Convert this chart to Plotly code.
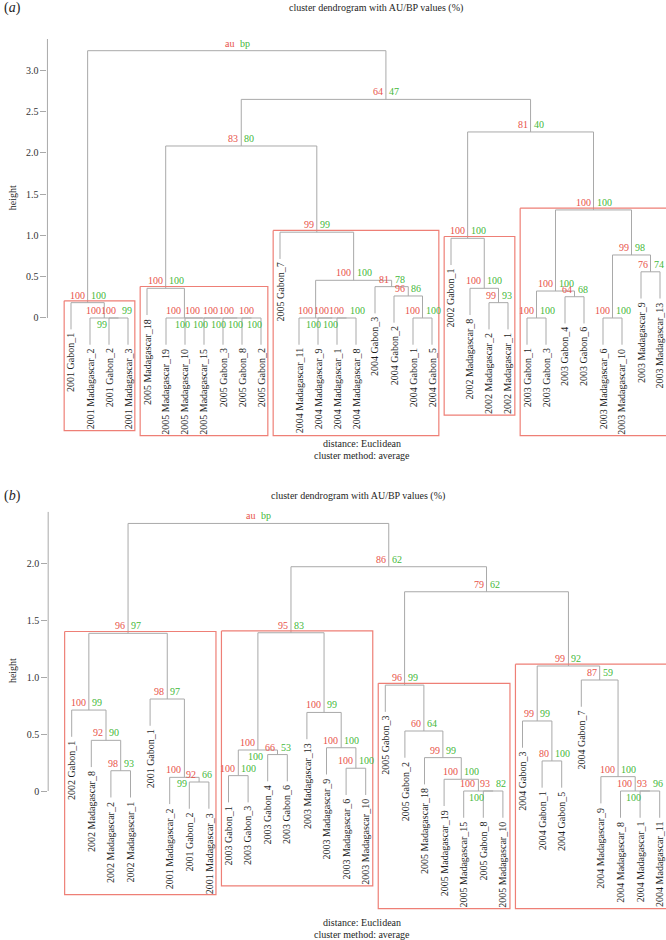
import plotly.graph_objects as go

W, H = 666, 940
SERIF = "Liberation Serif"
RED = "#e8524a"
GREEN = "#45b83a"
BOXC = "#ee7f76"
GREY = "#a9a9a9"
TXT = "#1e1e1e"

# ---------------- panel (a) data ----------------
LEAVES_A = ["2001 Gabon_1", "2001 Madagascar_2", "2001 Gabon_2", "2001 Madagascar_3",
            "2005 Madagascar_18", "2005 Madagascar_19", "2005 Madagascar_10", "2005 Madagascar_15",
            "2005 Gabon_3", "2005 Gabon_8", "2005 Gabon_2", "2005 Gabon_7",
            "2004 Madagascar_11", "2004 Madagascar_9", "2004 Madagascar_1", "2004 Madagascar_8",
            "2004 Gabon_3", "2004 Gabon_2", "2004 Gabon_1", "2004 Gabon_5",
            "2002 Gabon_1", "2002 Madagascar_8", "2002 Madagascar_2", "2002 Madagascar_1",
            "2003 Gabon_1", "2003 Gabon_3", "2003 Gabon_4", "2003 Gabon_6",
            "2003 Madagascar_6", "2003 Madagascar_10", "2003 Madagascar_9", "2003 Madagascar_13"]
LEFT_A = [-3, -2, -1, -10, -9, -8, -7, -6, -5, -15, -14, -13, -19, -18, -17, 12, -12, 9,
          -23, -22, -21, -25, -27, 22, -29, -31, 25, 24, 21, 18, 3]
RIGHT_A = [-4, 1, 2, -11, 4, 5, 6, 7, 8, -16, 10, 11, -20, 13, 14, 15, 16, 17,
           -24, 19, 20, -26, -28, 23, -30, -32, 26, 27, 28, 29, 30]
HEIGHT_A = [0, 0, 0.186, 0, 0, 0, 0, 0, 0.36, 0, 0, 0, 0, 0.267, 0.38, 0.457, 1.04, 2.085,
            0.186, 0.36, 0.966, 0, 0.258, 0.327, 0, 0.56, 0.764, 1.31, 2.255, 2.65, 3.24]
AU_A = [100, 100, 100, 100, 100, 100, 100, 100, 100, 100, 100, 100, 100, 96, 81, 100, 99, 83,
        99, 100, 100, 100, 64, 100, 100, 76, 99, 100, 81, 64, None]
BP_A = [99, 99, 100, 100, 100, 100, 100, 100, 100, 100, 100, 100, 100, 86, 78, 100, 99, 80,
        93, 100, 100, 100, 68, 100, 100, 74, 98, 100, 40, 47, None]
BOXES_A = [3, 9, 17, 21, 28]
TICKS_A = [0, 0.5, 1.0, 1.5, 2.0, 2.5, 3.0]

# ---------------- panel (b) data ----------------
LEAVES_B = ["2002 Gabon_1", "2002 Madagascar_8", "2002 Madagascar_2", "2002 Madagascar_1",
            "2001 Gabon_1", "2001 Madagascar_2", "2001 Gabon_2", "2001 Madagascar_3",
            "2003 Gabon_1", "2003 Gabon_3", "2003 Gabon_4", "2003 Gabon_6",
            "2003 Madagascar_13", "2003 Madagascar_9", "2003 Madagascar_6", "2003 Madagascar_10",
            "2005 Gabon_3", "2005 Gabon_2", "2005 Madagascar_18", "2005 Madagascar_19",
            "2005 Madagascar_15", "2005 Gabon_8", "2005 Madagascar_10",
            "2004 Gabon_3", "2004 Gabon_1", "2004 Gabon_5", "2004 Gabon_7",
            "2004 Madagascar_9", "2004 Madagascar_8", "2004 Madagascar_1", "2004 Madagascar_11"]
LEFT_B = [-3, -2, -1, -7, -6, -5, 3, -9, -11, 8, -15, -14, -13, 10, -22, -21, -20, -19, -18, -17,
          -25, -24, -30, -29, -28, -27, 22, 20, 14, 7]
RIGHT_B = [-4, 1, 2, -8, 4, 5, 6, -10, -12, 9, -16, 11, 12, 13, -23, 15, 16, 17, 18, 19,
           -26, 21, -31, 23, 24, 25, 26, 27, 28, 29]
HEIGHT_B = [0.178, 0.445, 0.711, 0.079, 0.12, 0.808, 1.385, 0.135, 0.32, 0.36, 0.2, 0.38, 0.69,
            1.39, 0, 0, 0.103, 0.293, 0.527, 0.93, 0.264, 0.615, 0, 0, 0.126, 0.975, 1.098,
            1.75, 1.97, 2.35]
AU_B = [98, 92, 100, 92, 100, 98, 96, 100, 66, 100, 100, 100, 100, 95, 93, 100, 100, 99, 60, 96,
        80, 99, 93, 100, 100, 87, 99, 79, 86, None]
BP_B = [93, 90, 99, 66, 99, 97, 97, 100, 53, 100, 100, 100, 99, 83, 82, 100, 100, 99, 64, 99,
        100, 99, 96, 100, 100, 59, 92, 62, 62, None]
BOXES_B = [7, 14, 20, 27]
TICKS_B = [0, 0.5, 1.0, 1.5, 2.0]

# ---------------- layout / style settings (page pixels) ----------------
STYLE_A = dict(leaf1=71.0, step=19.0, y0=318.0, scale=82.5, bp_below=[2, 4, 5, 6, 7, 8, 11, 12],
               nudge={4: 5}, title_x=376, title_y=8, tag="a", tag_y=8, foot_y=443)
STYLE_B = dict(leaf1=71.7, step=19.6, y0=791.0, scale=113.85, bp_below=[5, 10, 16, 24],
               nudge={}, title_x=358, title_y=496, tag="b", tag_y=496, foot_y=922)

CHAR_EM = {" ": 0.25, "_": 0.5, "G": 0.722, "M": 0.889, "a": 0.444, "b": 0.5, "c": 0.444,
           "d": 0.5, "g": 0.5, "n": 0.5, "o": 0.5, "r": 0.333, "s": 0.389}
LEAF_FS = 10
NUM_FS = 10


def text_px(s, fs):
    return sum(CHAR_EM.get(ch, 0.5) for ch in s) * fs


def px(xp):
    return xp / W


def py(yp):
    return 1 - yp / H


fig = go.Figure()
annotations = []
shapes = []


def panel(idx, leaves, left, right, heights, au, bp, boxes, ticks, st):
    xa = "x" if idx == 1 else "x%d" % idx
    ya = "y" if idx == 1 else "y%d" % idx
    n = len(leaves)
    maxh = max(heights)
    hang = 0.1 * maxh
    span = maxh + hang
    ylo_r, yhi = -hang - 0.04 * span, maxh + 0.04 * span
    xlo = 1 - 0.04 * (n - 1)
    xleft_page = st["leaf1"] + (xlo - 1) * st["step"]
    xhi = 1 + (W - st["leaf1"]) / st["step"]
    top_page = st["y0"] - yhi * st["scale"]
    region_bot_page = st["y0"] - ylo_r * st["scale"]

    node_x = {}
    leaf_end = {}
    members = {}
    lx, ly = [], []

    def cpos(c):
        return float(-c) if c < 0 else node_x[c]

    for k, (l, r, h) in enumerate(zip(left, right, heights), start=1):
        x1, x2 = cpos(l), cpos(r)
        y1 = heights[l - 1] if l > 0 else h - hang
        y2 = heights[r - 1] if r > 0 else h - hang
        lx += [x1, x1, x2, x2, None]
        ly += [y1, h, h, y2, None]
        node_x[k] = (x1 + x2) / 2
        mem = []
        for c in (l, r):
            if c < 0:
                leaf_end[-c] = h - hang
                mem.append(-c)
            else:
                mem += members[c]
        members[k] = mem

    fig.add_trace(go.Scatter(x=lx, y=ly, mode="lines", line=dict(color=GREY, width=1),
                             hoverinfo="skip", showlegend=False, xaxis=xa, yaxis=ya))

    gap = 2
    label_bottom = {}
    for i, name in enumerate(leaves, start=1):
        annotations.append(dict(x=i, y=leaf_end[i], xref=xa, yref=ya, text=name, showarrow=False,
                                textangle=-90, xanchor="center", yanchor="top", yshift=-gap,
                                font=dict(family=SERIF, size=LEAF_FS, color=TXT)))
        label_bottom[i] = leaf_end[i] - (gap + 3 + text_px(name, LEAF_FS)) / st["scale"]

    for k in range(1, len(heights) + 1):
        x, h = node_x[k], heights[k - 1]
        dx = st["nudge"].get(k, 0)
        a_txt = "au" if au[k - 1] is None else str(au[k - 1])
        b_txt = "bp" if bp[k - 1] is None else str(bp[k - 1])
        annotations.append(dict(x=x, y=h, xref=xa, yref=ya, text=a_txt, showarrow=False,
                                xanchor="right", yanchor="bottom", xshift=-1 + dx, yshift=0,
                                font=dict(family=SERIF, size=NUM_FS, color=RED)))
        if k in st["bp_below"]:
            annotations.append(dict(x=x, y=h, xref=xa, yref=ya, text=b_txt, showarrow=False,
                                    xanchor="center", yanchor="top", xshift=-2 + dx, yshift=1,
                                    font=dict(family=SERIF, size=NUM_FS, color=GREEN)))
        else:
            annotations.append(dict(x=x, y=h, xref=xa, yref=ya, text=b_txt, showarrow=False,
                                    xanchor="left", yanchor="bottom", xshift=1 + dx, yshift=0,
                                    font=dict(family=SERIF, size=NUM_FS, color=GREEN)))

    bx, by = [], []
    for k in boxes:
        mem = members[k]
        x0, x1 = min(mem) - 0.36, max(mem) + 0.36
        ytop = heights[k - 1] + 1.8 / st["scale"]
        ybot = min(label_bottom[m] for m in mem)
        bx += [x0, x1, x1, x0, x0, None]
        by += [ytop, ytop, ybot, ybot, ytop, None]
    fig.add_trace(go.Scatter(x=bx, y=by, mode="lines", line=dict(color=BOXC, width=1.2),
                             hoverinfo="skip", showlegend=False, xaxis=xa, yaxis=ya))

    # y range extended downward so the rectangles are not clipped
    ylo = min(label_bottom.values()) - 6 / st["scale"]
    bot_page = st["y0"] - ylo * st["scale"]
    xdom = [px(xleft_page), 1.0]
    ydom = [py(bot_page), py(top_page)]

    shapes.append(dict(type="line", xref=xa + " domain", x0=0, x1=0, yref=ya, y0=0, y1=yhi,
                       line=dict(color=GREY, width=1)))

    xkey = "xaxis" if idx == 1 else "xaxis%d" % idx
    ykey = "yaxis" if idx == 1 else "yaxis%d" % idx
    fig.layout[xkey] = dict(domain=xdom, range=[xlo, xhi], visible=False, anchor=ya)
    fig.layout[ykey] = dict(domain=ydom, range=[ylo, yhi], anchor=xa, showgrid=False,
                            zeroline=False, showline=False, ticks="outside", ticklen=6,
                            tickwidth=1, tickcolor=GREY, tickvals=ticks,
                            ticktext=["0" if t == 0 else "%.1f" % t for t in ticks],
                            tickfont=dict(family=SERIF, size=10, color="#333"))

    mid_page = (top_page + region_bot_page) / 2
    annotations.append(dict(x=px(12.5), y=py(mid_page), xref="paper", yref="paper", text="height",
                            textangle=-90, showarrow=False, xanchor="center", yanchor="middle",
                            font=dict(family=SERIF, size=10, color=TXT)))
    annotations.append(dict(x=px(st["title_x"]), y=py(st["title_y"]), xref="paper",
                            yref="paper", text="cluster dendrogram with AU/BP values (%)",
                            showarrow=False, xanchor="center", yanchor="middle",
                            font=dict(family=SERIF, size=10, color=TXT)))
    annotations.append(dict(x=px(1.5), y=py(st["tag_y"]), xref="paper", yref="paper",
                            text="(<i>" + st["tag"] + "</i>)", showarrow=False,
                            xanchor="left", yanchor="middle",
                            font=dict(family=SERIF, size=14, color=TXT)))
    annotations.append(dict(x=px(362), y=py(st["foot_y"]), xref="paper", yref="paper",
                            text="distance: Euclidean", showarrow=False, xanchor="center",
                            yanchor="middle", font=dict(family=SERIF, size=10, color=TXT)))
    annotations.append(dict(x=px(362), y=py(st["foot_y"] + 12.5), xref="paper",
                            yref="paper", text="cluster method: average", showarrow=False,
                            xanchor="center", yanchor="middle",
                            font=dict(family=SERIF, size=10, color=TXT)))


panel(1, LEAVES_A, LEFT_A, RIGHT_A, HEIGHT_A, AU_A, BP_A, BOXES_A, TICKS_A, STYLE_A)
panel(2, LEAVES_B, LEFT_B, RIGHT_B, HEIGHT_B, AU_B, BP_B, BOXES_B, TICKS_B, STYLE_B)

fig.update_layout(width=W, height=H, margin=dict(l=0, r=0, t=0, b=0),
                  paper_bgcolor="white", plot_bgcolor="white",
                  annotations=annotations, shapes=shapes,
                  font=dict(family=SERIF, size=10, color=TXT))
fig.write_html("out.html", config={"displayModeBar": False},
               post_script="document.body.style.margin='0px';")
